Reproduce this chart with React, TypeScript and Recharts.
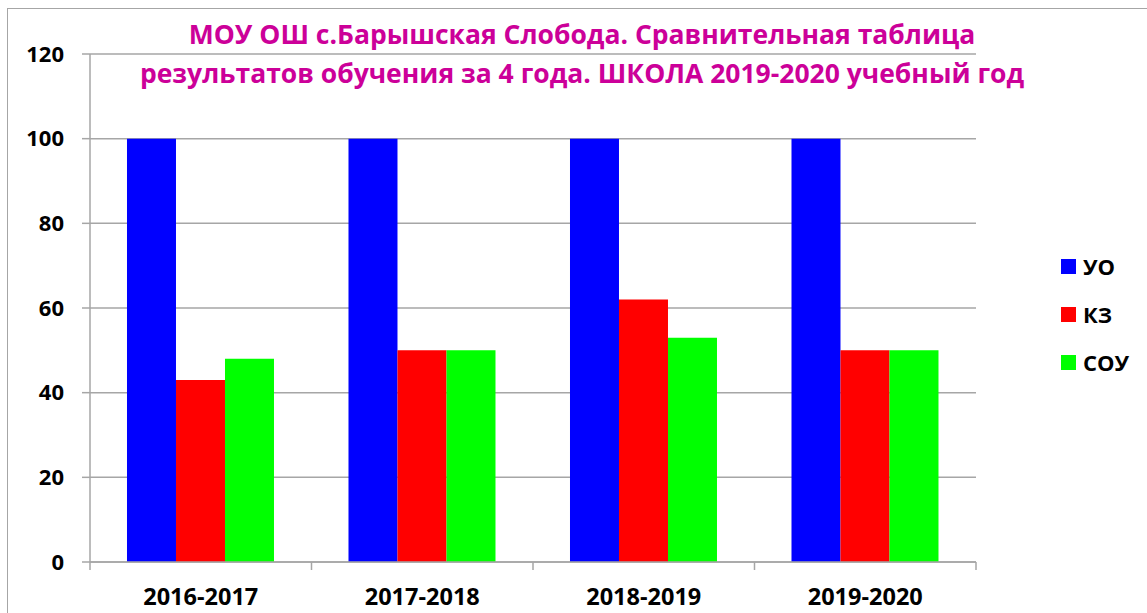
import React from 'react';
import { BarChart, Bar, XAxis, YAxis, CartesianGrid } from 'recharts';

const categories = ['2016-2017', '2017-2018', '2018-2019', '2019-2020'];
const uoValues = [100, 100, 100, 100];
const kzValues = [43, 50, 62, 50];
const souValues = [48, 50, 53, 50];
const yTicks = [0, 20, 40, 60, 80, 100, 120];
const seriesNames = ['УО', 'КЗ', 'СОУ'];
const seriesColors = ['#0000ff', '#ff0000', '#00ff00'];
const titleLines = [
  'МОУ ОШ с.Барышская Слобода. Сравнительная таблица',
  'результатов обучения за 4 года. ШКОЛА 2019-2020 учебный год',
];

const data = categories.map((c, i) => ({
  name: c,
  uo: uoValues[i],
  kz: kzValues[i],
  sou: souValues[i],
}));
const keys = ['uo', 'kz', 'sou'];

const W = 1147;
const H = 613;
const PLOT_LEFT = 90;
const PLOT_RIGHT = 976;
const BAND = (PLOT_RIGHT - PLOT_LEFT) / categories.length;
const FONT = '"Open Sans", sans-serif';
const GRID = '#a6a6a6';

const XTick = (props: any) => {
  const { x, y, payload, index } = props;
  const left = x - BAND / 2;
  const right = x + BAND / 2;
  return (
    <g>
      <line x1={left} y1={y - 8} x2={left} y2={y} stroke={GRID} strokeWidth={1.5} />
      {index === categories.length - 1 && (
        <line x1={right} y1={y - 8} x2={right} y2={y} stroke={GRID} strokeWidth={1.5} />
      )}
      <text x={x} y={y + 35} textAnchor="middle" fontFamily={FONT} fontWeight={700} fontSize={23.5} fill="#000">
        {payload.value}
      </text>
    </g>
  );
};

export default function App() {
  return (
    <div style={{ position: 'absolute', left: 0, top: 0, width: W, height: H, background: '#fff', overflow: 'hidden' }}>
      <div style={{ position: 'absolute', left: 7, top: 8, width: W, height: H, borderTop: `1.5px solid ${GRID}`, borderLeft: `1.5px solid ${GRID}` }} />
      <BarChart
        width={W}
        height={H}
        data={data}
        margin={{ top: 54, right: W - PLOT_RIGHT, bottom: 0, left: 0 }}
        barCategoryGap="16.7%"
        barGap={0}
      >
        <CartesianGrid vertical={false} stroke={GRID} strokeWidth={1.5} />
        <XAxis
          dataKey="name"
          height={51}
          stroke={GRID}
          strokeWidth={1.5}
          tickLine={false}
          tick={<XTick />}
          interval={0}
        />
        <YAxis
          width={PLOT_LEFT}
          domain={[0, 120]}
          ticks={yTicks}
          interval={0}
          stroke={GRID}
          strokeWidth={1.5}
          tickSize={8}
          tickMargin={18}
          tick={{ fill: '#000', fontFamily: FONT, fontWeight: 700, fontSize: 22 }}
        />
        {keys.map((k, i) => (
          <Bar key={k} dataKey={k} name={seriesNames[i]} fill={seriesColors[i]} isAnimationActive={false} />
        ))}
      </BarChart>
      <div style={{ position: 'absolute', left: 0, top: 0, width: W, pointerEvents: 'none' }}>
        {titleLines.map((t, i) => (
          <div
            key={i}
            style={{
              position: 'absolute',
              left: 582 - 500,
              width: 1000,
              top: 16 + i * 39,
              textAlign: 'center',
              fontFamily: FONT,
              fontWeight: 700,
              fontSize: 26.5,
              lineHeight: '36px',
              color: '#cc0099',
              whiteSpace: 'nowrap',
            }}
          >
            {t}
          </div>
        ))}
      </div>
      {seriesNames.map((n, i) => (
        <div
          key={n}
          style={{
            position: 'absolute',
            left: 1061,
            top: 266 + i * 48 - 16,
            height: 32,
            display: 'flex',
            alignItems: 'center',
            fontFamily: FONT,
            fontWeight: 700,
            fontSize: 22,
            color: '#000',
          }}
        >
          <span style={{ display: 'inline-block', width: 15, height: 15, background: seriesColors[i], marginRight: 7 }} />
          {n}
        </div>
      ))}
    </div>
  );
}
